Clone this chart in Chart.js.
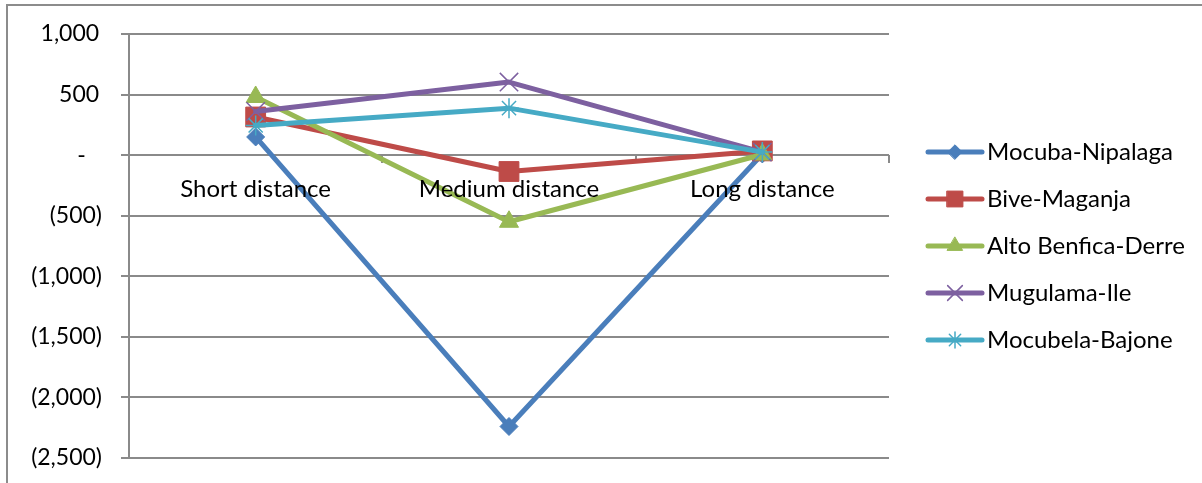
<!DOCTYPE html>
<html>
<head>
<meta charset="utf-8">
<script src="https://cdn.jsdelivr.net/npm/chart.js@4/dist/chart.umd.min.js"></script>
<style>
  html, body { margin: 0; padding: 0; background: #fff; }
  #wrap { width: 1202px; height: 483px; position: relative; }
</style>
</head>
<body>
<div id="wrap"><canvas id="c" width="1202" height="483"></canvas></div>
<script>
// Categories along the horizontal axis
const categories = ['Short distance', 'Medium distance', 'Long distance'];

// One array per route
const mocubaNipalaga   = [150, -2240, 10];
const biveMaganja      = [315, -135, 35];
const altoBenficaDerre = [480, -550, 5];
const mugulamaIle      = [360, 603, 25];
const mocubelaBajone   = [245, 388, 25];

const seriesNames = ['Mocuba-Nipalaga', 'Bive-Maganja', 'Alto Benfica-Derre', 'Mugulama-Ile', 'Mocubela-Bajone'];
const seriesValues = [mocubaNipalaga, biveMaganja, altoBenficaDerre, mugulamaIle, mocubelaBajone];

// Value axis range and step
const yMin = -2500;
const yMax = 1000;
const yStep = 500;

const FONT_FAMILY = 'Lato, "Liberation Sans", sans-serif';
const GRID = '#8a8a8a';

const styles = [
  { color: '#4a7ebb', point: 'rectRot',  radius: 9,  pbw: 1 },
  { color: '#be4b48', point: 'rect',     radius: 14, pbw: 1 },
  { color: '#98b954', point: 'triangle', radius: 11, pbw: 1 },
  { color: '#7d60a0', point: 'crossRot', radius: 13, pbw: 1.5 },
  { color: '#46aac5', point: 'star',     radius: 10, pbw: 1.5 }
];

const datasets = seriesNames.map((name, i) => ({
  label: name,
  data: seriesValues[i],
  borderColor: styles[i].color,
  backgroundColor: styles[i].color,
  pointBackgroundColor: styles[i].color,
  pointBorderColor: styles[i].color,
  borderWidth: 5,
  borderJoinStyle: 'round',
  borderCapStyle: 'round',
  pointStyle: styles[i].point,
  pointRadius: styles[i].radius,
  pointHoverRadius: styles[i].radius,
  pointBorderWidth: styles[i].pbw,
  tension: 0,
  order: -i
}));

function formatTick(v) {
  if (v === 0) return '-\u2007\u2009';
  const s = Math.abs(v).toLocaleString('en-US');
  return v < 0 ? '(' + s + ')' : s + '\u2009';
}

// Frame around the whole chart
const framePlugin = {
  id: 'frame',
  beforeDraw(chart) {
    const ctx = chart.ctx;
    ctx.save();
    ctx.fillStyle = '#fff';
    ctx.fillRect(0, 0, chart.width, chart.height);
    ctx.strokeStyle = '#8c8c8c';
    ctx.lineWidth = 2;
    ctx.strokeRect(7, 5, chart.width + 20, chart.height + 20);
    ctx.restore();
  }
};

// Legend on the right: line sample with marker, then the series name
const sideLegend = {
  id: 'sideLegend',
  afterDraw(chart) {
    const ctx = chart.ctx;
    const x0 = 928, x1 = 982, xm = (x0 + x1) / 2, top = 152, gap = 47, tx = 987;
    chart.data.datasets.forEach((ds, i) => {
      const y = top + i * gap;
      ctx.save();
      ctx.strokeStyle = ds.borderColor;
      ctx.lineWidth = ds.borderWidth;
      ctx.lineCap = 'round';
      ctx.beginPath();
      ctx.moveTo(x0, y);
      ctx.lineTo(x1, y);
      ctx.stroke();
      ctx.fillStyle = ds.pointBackgroundColor;
      ctx.strokeStyle = ds.pointBorderColor;
      ctx.lineWidth = ds.pointBorderWidth;
      Chart.helpers.drawPoint(ctx, {
        pointStyle: ds.pointStyle,
        rotation: 0,
        radius: ds.pointRadius * 0.8,
        borderWidth: ds.pointBorderWidth
      }, xm, y);
      ctx.fillStyle = '#000';
      ctx.font = '24px ' + FONT_FAMILY;
      ctx.textAlign = 'left';
      ctx.textBaseline = 'middle';
      ctx.fillText(ds.label, tx, y);
      ctx.restore();
    });
  }
};

new Chart(document.getElementById('c'), {
  type: 'line',
  data: { labels: categories, datasets },
  options: {
    responsive: false,
    animation: false,
    events: [],
    layout: { padding: { left: 0, top: 34, right: 313, bottom: 25 } },
    plugins: { legend: { display: false }, tooltip: { enabled: false } },
    scales: {
      x: {
        type: 'category',
        position: { y: 0 },
        offset: true,
        afterFit(scale) { scale.height = 0; },
        grid: {
          offset: true,
          drawOnChartArea: false,
          drawTicks: true,
          tickLength: 8,
          color: GRID,
          lineWidth: 2
        },
        border: { display: false },
        ticks: {
          z: 1,
          color: '#000',
          font: { family: FONT_FAMILY, size: 24 },
          padding: 12,
          autoSkip: false,
          maxRotation: 0
        }
      },
      y: {
        min: yMin,
        max: yMax,
        afterFit(scale) {
          scale.width = 129;
          scale.paddingTop = 0;
          scale.paddingBottom = 0;
        },
        grid: { color: GRID, lineWidth: 2, tickLength: 8 },
        border: { display: true, color: GRID, width: 2 },
        ticks: {
          stepSize: yStep,
          color: '#000',
          padding: 19,
          font: { family: FONT_FAMILY, size: 23 },
          callback: formatTick
        }
      }
    }
  },
  plugins: [framePlugin, sideLegend]
});
</script>
</body>
</html>
